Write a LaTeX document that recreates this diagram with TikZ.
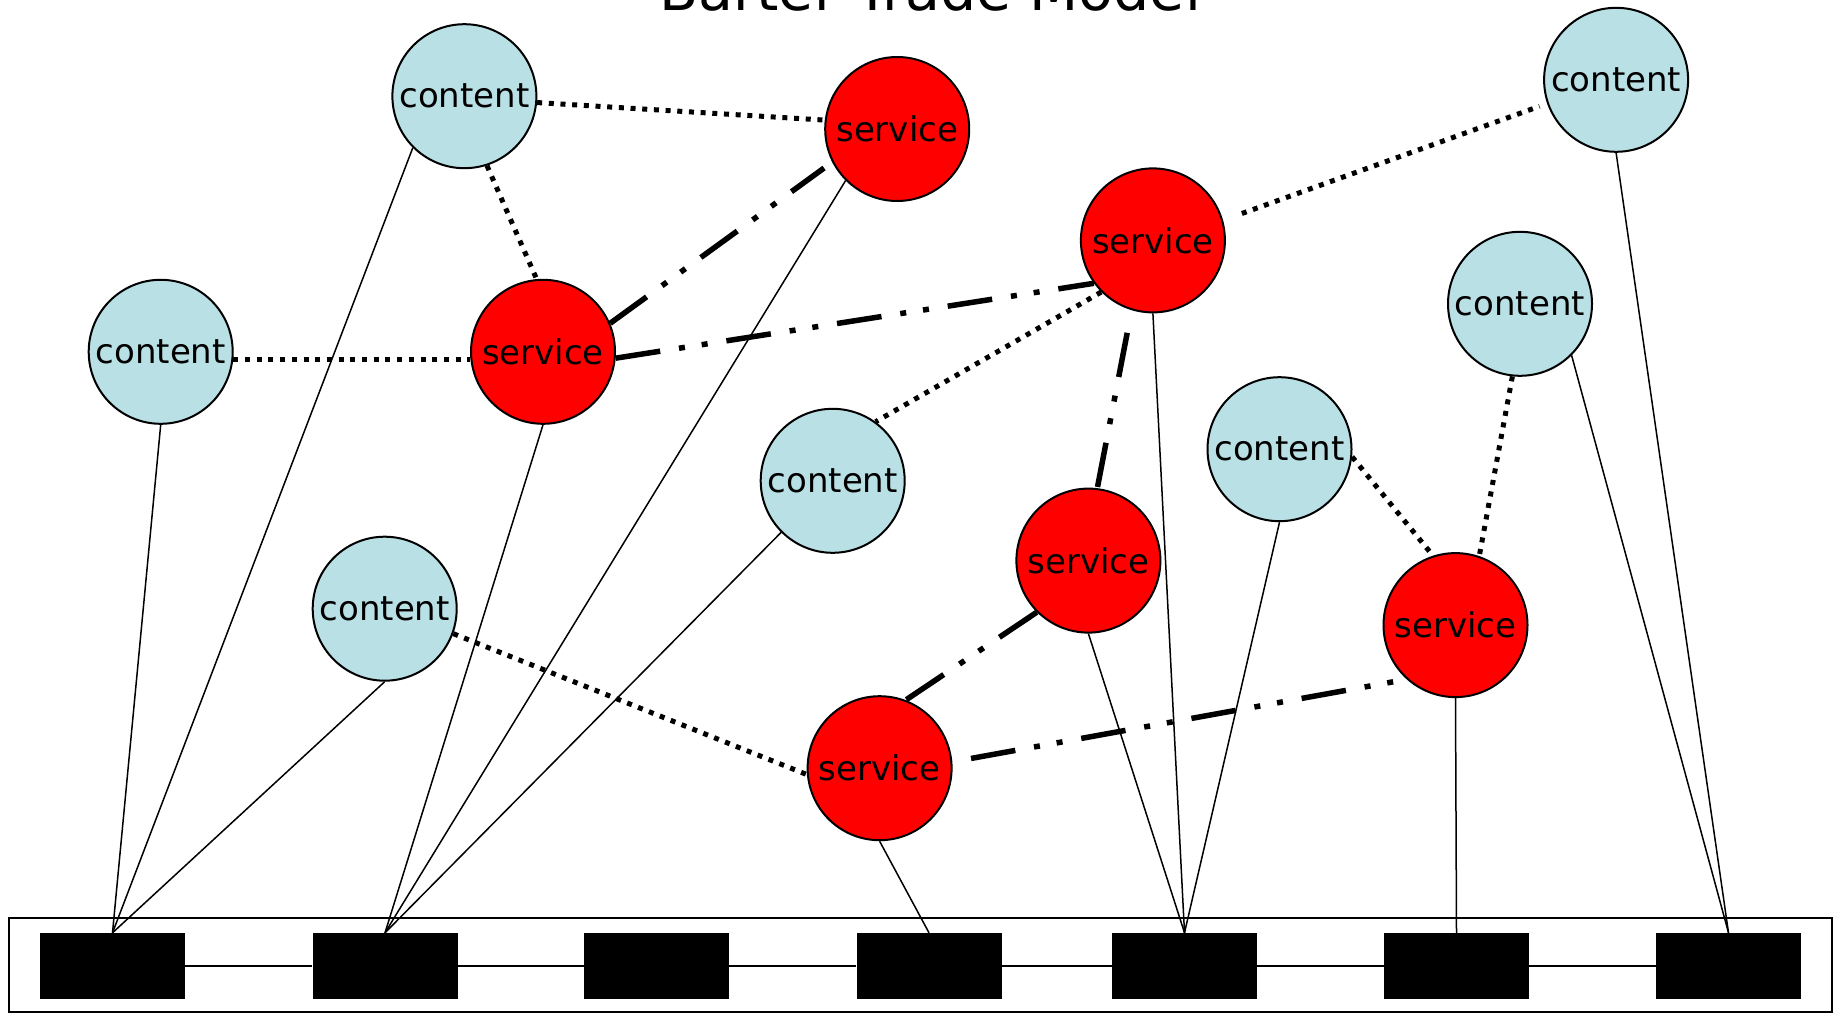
\documentclass[tikz,border=0pt]{standalone}
\usepackage{fontspec}
\setmainfont{DejaVu Sans}
\definecolor{contentblue}{HTML}{B9E0E4}
\definecolor{servicered}{HTML}{FF0000}
\begin{document}
\begin{tikzpicture}[x=1pt,y=-1pt,
  bubble/.style={circle,draw=black,line width=2pt,minimum size=144pt,inner sep=0pt,
    font=\fontsize{34}{40}\selectfont},
  cnode/.style={bubble,fill=contentblue},
  snode/.style={bubble,fill=servicered},
  port/.style={fill=black,draw=none,minimum width=145pt,minimum height=66pt,inner sep=0pt},
  link/.style={line width=1.5pt},
  swap/.style={line width=5pt,dash pattern=on 5pt off 6.7pt},
  trade/.style={line width=5.5pt,dash pattern=on 45pt off 19pt on 6pt off 17pt on 6pt off 19pt},
  bus/.style={line width=2pt}]
\useasboundingbox (0,0) rectangle (1839,1014);
\clip (0,0) rectangle (1839,1014);
\fill[white] (0,0) rectangle (1839,1014);

\node[font=\fontsize{57}{60}\selectfont,anchor=base] (title) at (930,11) {Barter Trade Model};

% bottom network
\node[draw=black,line width=2pt,minimum width=1823pt,minimum height=94pt,inner sep=0pt] (net) at (920.5,965) {};
\node[port] (b1) at (112.5,966) {};
\node[port] (b2) at (385,966) {};
\node[port] (b3) at (656.5,966) {};
\node[port] (b4) at (929,966) {};
\node[port] (b5) at (1184.5,966) {};
\node[port] (b6) at (1456.5,966) {};
\node[port] (b7) at (1728.5,966) {};
\draw[bus] (b1.east) -- (b2.west);
\draw[bus] (b2.east) -- (b3.west);
\draw[bus] (b3.east) -- (b4.west);
\draw[bus] (b4.east) -- (b5.west);
\draw[bus] (b5.east) -- (b6.west);
\draw[bus] (b6.east) -- (b7.west);

% peers
\node[cnode] (A) at (464.4,96.2) {content};
\node[snode] (B) at (897.2,129.0) {service};
\node[cnode] (C) at (1616.1,79.8) {content};
\node[snode] (D) at (1152.9,240.4) {service};
\node[cnode] (E) at (160.7,351.8) {content};
\node[snode] (F) at (543.0,351.8) {service};
\node[cnode] (G) at (1520.0,303.8) {content};
\node[cnode] (H) at (1279.5,449.2) {content};
\node[cnode] (I) at (832.7,480.8) {content};
\node[snode] (J) at (1088.4,560.6) {service};
\node[cnode] (K) at (384.7,608.7) {content};
\node[snode] (L) at (1455.5,625.1) {service};
\node[snode] (M) at (879.6,768.2) {service};

% attachments to the network
\draw[link] (E.south) -- (b1.north);
\draw[link] (A.south west) -- (b1.north);
\draw[link] (K.south) -- (b1.north);
\draw[link] (F.south) -- (b2.north);
\draw[link] (B.south west) -- (b2.north);
\draw[link] (I.south west) -- (b2.north);
\draw[link] (M.south) -- (b4.north);
\draw[link] (J.south) -- (b5.north);
\draw[link] (D.south) -- (b5.north);
\draw[link] (H.south) -- (b5.north);
\draw[link] (L.south) -- (b6.north);
\draw[link] (C.south) -- (b7.north);
\draw[link] (G.south east) -- (b7.north);

% content - service (dotted)
\draw[swap] (A.-5) -- (B.173);
\draw[swap] (A.-72) -- (F.95);
\draw[swap] (E.-6) -- (F.186);
\draw[swap,shorten <=20pt,shorten >=8pt] (D.16) -- (C.199);
\draw[swap] (D.225) -- (I.54);
\draw[swap] (H.-6) -- (L.108);
\draw[swap] (G.264) -- (L.71);
\draw[swap] (K.-20) -- (M.185);

% service - service (dash dot dot)
\draw[trade,shorten >=10pt] (F.23) -- (B.207);
\draw[trade] (F.-5) -- (D.216);
\draw[trade,shorten <=23pt] (D.253) -- (J.83);
\draw[trade] (J.225) -- (M.69);
\draw[trade,shorten <=19pt,shorten >=6pt] (M.5) -- (L.228);
\end{tikzpicture}
\end{document}
